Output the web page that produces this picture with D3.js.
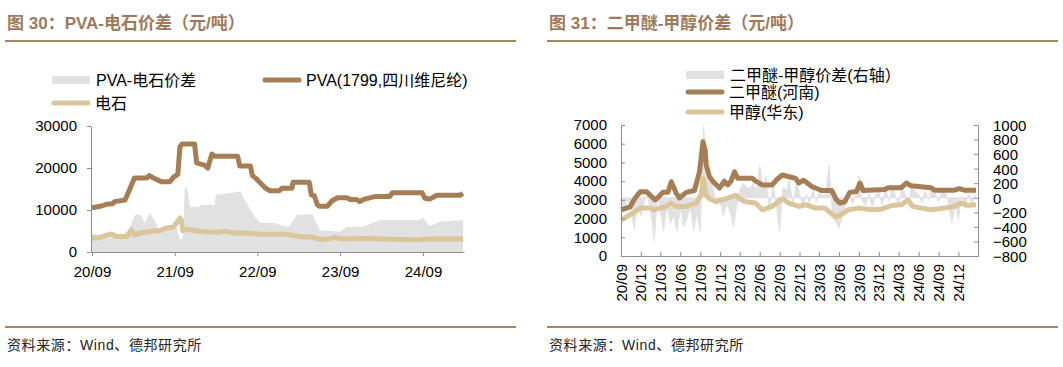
<!DOCTYPE html>
<html>
<head>
<meta charset="utf-8">
<script src="https://cdn.jsdelivr.net/npm/d3@7"></script>
<style>
  body { margin: 0; background: #fff; }
  svg { display: block; }
  text { font-family: "Liberation Sans", Arial, "Noto Sans CJK SC", sans-serif; }
</style>
</head>
<body>
<svg id="chart" width="1063" height="367"></svg>
<script>
// ---- data: PVA chart (元/吨) ----
const pvaPrice = [
  ["2020-09-01",10550],["2020-10-13",10950],["2020-11-06",11400],["2020-12-01",11500],["2020-12-10",12000],
  ["2021-01-25",12400],["2021-02-03",13500],["2021-02-15",15000],["2021-03-07",17600],["2021-05-01",17600],
  ["2021-05-12",18200],["2021-06-04",17500],["2021-06-20",17100],["2021-07-06",16700],["2021-08-10",16700],
  ["2021-08-28",17900],["2021-09-15",18500],["2021-09-24",25000],["2021-10-03",25700],["2021-11-28",25700],
  ["2021-12-07",21200],["2022-01-10",20700],["2022-01-25",20000],["2022-02-12",23300],["2022-02-25",22800],
  ["2022-06-06",22800],["2022-06-15",20500],["2022-08-01",20500],["2022-08-10",18200],["2022-08-28",17400],
  ["2022-10-03",15400],["2022-10-25",14600],["2022-12-08",14600],["2022-12-18",15200],["2023-02-01",15200],
  ["2023-02-05",16600],["2023-04-18",16600],["2023-04-27",13600],["2023-05-10",13400],["2023-05-24",11200],
  ["2023-06-03",10900],["2023-07-07",10900],["2023-07-28",12200],["2023-08-21",12900],["2023-10-01",12900],
  ["2023-10-15",12500],["2023-11-13",12500],["2023-11-27",12000],["2023-12-18",12600],["2024-02-01",13200],
  ["2024-04-07",13200],["2024-04-19",14100],["2024-08-28",14100],["2024-09-09",12800],["2024-10-01",12600],
  ["2024-11-01",13500],["2025-02-12",13500],["2025-02-24",14000]
];
const carbidePrice = [
  ["2020-09-01",3250],["2020-10-06",3400],["2020-11-04",4000],["2020-11-26",4300],["2020-12-19",3700],
  ["2021-02-01",3700],["2021-02-23",5200],["2021-03-07",4000],["2021-04-01",4600],["2021-04-28",4700],
  ["2021-05-28",5000],["2021-06-28",5100],["2021-07-25",5700],["2021-08-25",5900],["2021-09-10",7000],
  ["2021-09-25",8100],["2021-10-01",7500],["2021-10-07",5100],["2021-10-30",5400],["2021-12-22",4900],
  ["2022-03-04",4700],["2022-04-16",4900],["2022-05-16",4500],["2022-07-13",4500],["2022-09-13",4200],
  ["2022-11-10",4200],["2023-01-07",4200],["2023-03-07",3700],["2023-05-04",3500],["2023-06-04",3000],
  ["2023-07-16",3100],["2023-08-07",3500],["2023-09-13",3100],["2023-12-25",3200],["2024-05-22",3000],
  ["2024-08-19",2900],["2024-09-16",3100],["2025-02-25",3100]
];
const pvaSpread = [
  ["2020-09-01",4300],["2020-11-19",3900],["2021-01-25",4300],["2021-02-20",6500],["2021-03-13",9000],
  ["2021-04-04",8800],["2021-04-22",6900],["2021-05-13",9300],["2021-06-04",7600],["2021-06-19",5700],
  ["2021-09-10",5700],["2021-09-25",2800],["2021-10-07",3600],["2021-10-16",15500],["2021-10-28",14800],
  ["2021-11-07",10800],["2021-12-13",10800],["2021-12-25",11200],["2022-02-25",11200],["2022-03-01",13600],
  ["2022-06-19",14400],["2022-07-07",12400],["2022-08-19",8400],["2022-09-16",6900],["2022-11-16",6900],
  ["2023-01-01",6000],["2023-01-22",6200],["2023-02-22",8800],["2023-05-01",9000],["2023-06-04",5200],
  ["2023-09-01",4800],["2023-10-01",6000],["2023-12-10",6000],["2024-02-25",7600],["2024-08-19",7600],
  ["2024-09-01",8100],["2024-10-01",6200],["2024-11-16",7200],["2025-02-25",7600]
];
const leftTickDates = ["2020-09-01","2021-09-01","2022-09-01","2023-09-01","2024-09-01"];
const leftYTicks = [0, 10000, 20000, 30000];

// ---- data: 二甲醚 chart (元/吨) ----
const dmePrice = [
  ["2020-09-01",2460],["2020-10-13",2630],["2020-11-05",3100],["2020-11-28",3430],["2020-12-28",3430],
  ["2021-01-13",3250],["2021-02-05",3000],["2021-02-20",3150],["2021-03-13",3400],["2021-04-05",3400],
  ["2021-04-20",3970],["2021-05-13",3350],["2021-05-28",3100],["2021-06-28",3400],["2021-08-05",3500],
  ["2021-08-28",4500],["2021-09-13",6100],["2021-09-23",5660],["2021-09-28",4860],["2021-10-13",4240],
  ["2021-10-28",4000],["2021-11-28",3630],["2021-12-20",4000],["2022-01-05",3800],["2022-01-20",4000],
  ["2022-02-05",4500],["2022-02-20",4150],["2022-04-28",4150],["2022-05-13",4000],["2022-06-13",3800],
  ["2022-07-28",3800],["2022-08-20",4100],["2022-09-13",4330],["2022-11-13",4150],["2022-11-28",3900],
  ["2022-12-20",4050],["2023-01-28",3700],["2023-03-13",3500],["2023-04-28",3500],["2023-05-20",3000],
  ["2023-06-05",2830],["2023-06-28",2900],["2023-07-20",3400],["2023-08-20",3450],["2023-09-05",3900],
  ["2023-09-20",3500],["2023-12-28",3550],["2024-01-13",3650],["2024-03-13",3650],["2024-04-05",3900],
  ["2024-04-28",3750],["2024-07-28",3650],["2024-08-13",3520],["2024-11-13",3520],["2024-12-05",3600],
  ["2024-12-28",3520],["2025-02-20",3520]
];
const methanolPrice = [
  ["2020-09-01",1920],["2020-09-28",2100],["2020-10-28",2300],["2020-11-28",2560],["2021-01-13",2560],
  ["2021-01-28",2470],["2021-02-28",2560],["2021-03-28",2650],["2021-04-20",2830],["2021-05-13",2650],
  ["2021-06-28",2650],["2021-08-13",2830],["2021-09-05",3300],["2021-09-13",4150],["2021-09-28",3250],
  ["2021-10-13",3060],["2021-11-13",2900],["2021-12-28",3060],["2022-02-13",3250],["2022-02-28",3060],
  ["2022-03-28",2900],["2022-05-13",2830],["2022-06-13",2470],["2022-07-28",2650],["2022-09-13",3060],
  ["2022-10-13",2830],["2022-11-28",2650],["2022-12-28",2740],["2023-02-13",2560],["2023-03-28",2560],
  ["2023-05-13",2100],["2023-06-05",2170],["2023-07-13",2470],["2023-08-28",2560],["2023-10-28",2470],
  ["2023-12-13",2500],["2024-01-28",2700],["2024-03-13",2740],["2024-04-13",3000],["2024-05-05",2650],
  ["2024-06-13",2560],["2024-07-28",2470],["2024-09-28",2560],["2024-11-13",2650],["2024-12-13",2830],
  ["2025-01-13",2700],["2025-02-20",2740]
];
// spread on right axis: [month, value on 1st, value on 16th]
const dmeSpread = [
  ["2020-09",-80,-200],["2020-10",-30,-150],["2020-11",-440,-80],["2020-12",-250,-60],
  ["2021-01",40,-200],["2021-02",-600,30],["2021-03",-200,-460],["2021-04",-100,-350],
  ["2021-05",-250,-460],["2021-06",-150,-400],["2021-07",-300,-120],["2021-08",-450,-200],
  ["2021-09",-470,1000],["2021-10",300,310],["2021-11",100,-100],["2021-12",-50,-250],
  ["2022-01",-80,-200],["2022-02",-400,-100],["2022-03",100,200],["2022-04",150,120],
  ["2022-05",200,100],["2022-06",450,150],["2022-07",300,-200],["2022-08",180,-100],
  ["2022-09",-470,150],["2022-10",100,250],["2022-11",-100,200],["2022-12",80,-150],
  ["2023-01",50,-80],["2023-02",120,-60],["2023-03",100,30],["2023-04",50,450],
  ["2023-05",-200,-340],["2023-06",-420,-250],["2023-07",-100,50],["2023-08",-80,20],
  ["2023-09",300,-50],["2023-10",-100,60],["2023-11",-150,40],["2023-12",80,-100],
  ["2024-01",120,-60],["2024-02",180,20],["2024-03",-120,150],["2024-04",60,-80],
  ["2024-05",200,100],["2024-06",50,-80],["2024-07",100,-40],["2024-08",150,60],
  ["2024-09",-60,100],["2024-10",120,-80],["2024-11",-350,-100],["2024-12",-300,40],
  ["2025-01",-150,60],["2025-02",-100,30]
];
const rightTickDates = [
  "2020-09-01","2020-12-01","2021-03-01","2021-06-01","2021-09-01","2021-12-01",
  "2022-03-01","2022-06-01","2022-09-01","2022-12-01","2023-03-01","2023-06-01",
  "2023-09-01","2023-12-01","2024-03-01","2024-06-01","2024-09-01","2024-12-01"
];
const rightYTicks = d3.range(0, 7001, 1000);
const rightY2Ticks = d3.range(-800, 1001, 200);

// ---- styles ----
const brown = "#A67E55";
const tan = "#DBC69C";
const grey = "#E1E1E1";
const titleColor = "#9E7A5C";
const ruleColor = "#A8865F";
const axisColor = "#8C8C8C";

const parse = d3.timeParse("%Y-%m-%d");
const fmt = d3.timeFormat("%y/%m");
const toPts = arr => arr.map(d => ({ date: parse(d[0]), value: d[1] }));

const svg = d3.select("#chart");

// headers & footers
function frame(x0, x1, title) {
  svg.append("text").attr("x", x0 + 2).attr("y", 29)
    .attr("fill", titleColor).attr("font-size", 17).attr("font-weight", "bold")
    .text(title);
  svg.append("line").attr("x1", x0).attr("x2", x1).attr("y1", 41).attr("y2", 41)
    .attr("stroke", ruleColor).attr("stroke-width", 2);
  svg.append("line").attr("x1", x0).attr("x2", x1).attr("y1", 327).attr("y2", 327)
    .attr("stroke", ruleColor).attr("stroke-width", 2);
  svg.append("text").attr("x", x0 + 2).attr("y", 350)
    .attr("fill", "#222").attr("font-size", 14).attr("letter-spacing", 0.6)
    .text("资料来源：Wind、德邦研究所");
}
frame(5, 516, "图 30：PVA-电石价差（元/吨）");
frame(547, 1058, "图 31：二甲醚-甲醇价差（元/吨）");

function styleAxis(g) {
  g.select(".domain").attr("stroke", axisColor);
  g.selectAll(".tick line").attr("stroke", axisColor);
  g.selectAll(".tick text").attr("fill", "#000").attr("font-size", 15)
    .attr("font-family", "\"Liberation Sans\", Arial, sans-serif");
}

// legend helpers
function legendRect(x, y, label) {
  svg.append("rect").attr("x", x).attr("y", y - 4).attr("width", 38).attr("height", 8).attr("fill", grey);
  svg.append("text").attr("x", x + 44).attr("y", y + 6).attr("font-size", 16).attr("fill", "#000").text(label);
}
function legendLine(x, y, color, label) {
  svg.append("line").attr("x1", x + 2).attr("x2", x + 36).attr("y1", y).attr("y2", y)
    .attr("stroke", color).attr("stroke-width", 5).attr("stroke-linecap", "round");
  svg.append("text").attr("x", x + 43).attr("y", y + 6).attr("font-size", 16).attr("fill", "#000").text(label);
}

// ================= left chart =================
{
  const xL = d3.scaleTime().domain([parse("2020-09-01"), parse("2025-03-01")]).range([92, 464]);
  const yL = d3.scaleLinear().domain([0, 30000]).range([252, 126]);

  svg.append("path").datum(toPts(pvaSpread))
    .attr("fill", grey)
    .attr("d", d3.area().x(d => xL(d.date)).y0(yL(0)).y1(d => yL(d.value)));

  const line = d3.line().x(d => xL(d.date)).y(d => yL(d.value));
  svg.append("path").datum(toPts(pvaPrice)).attr("fill", "none")
    .attr("stroke", brown).attr("stroke-width", 5).attr("stroke-linejoin", "round").attr("d", line);
  svg.append("path").datum(toPts(carbidePrice)).attr("fill", "none")
    .attr("stroke", tan).attr("stroke-width", 5).attr("stroke-linejoin", "round").attr("d", line);

  svg.append("g").attr("transform", "translate(91,0)")
    .call(d3.axisLeft(yL).tickValues(leftYTicks).tickSize(4).tickSizeOuter(0).tickPadding(10).tickFormat(d3.format("d")))
    .call(styleAxis);
  svg.append("g").attr("transform", "translate(0,252)")
    .call(d3.axisBottom(xL).tickValues(leftTickDates.map(parse)).tickFormat(fmt)
      .tickSize(4).tickSizeOuter(0).tickPadding(10))
    .call(styleAxis);

  legendRect(52, 80, "PVA-电石价差");
  legendLine(263, 80, brown, "PVA(1799,四川维尼纶)");
  legendLine(52, 103, tan, "电石");
}

// ================= right chart =================
{
  const xR = d3.scaleTime().domain([parse("2020-09-01"), parse("2025-03-01")]).range([621, 978]);
  const yR = d3.scaleLinear().domain([0, 7000]).range([256, 125]);
  const yR2 = d3.scaleLinear().domain([-800, 1000]).range([256, 125]);

  const spreadPts = [];
  dmeSpread.forEach(d => {
    spreadPts.push({ date: parse(d[0] + "-01"), value: d[1] });
    spreadPts.push({ date: parse(d[0] + "-16"), value: d[2] });
  });
  svg.append("path").datum(spreadPts)
    .attr("fill", grey).attr("stroke", grey).attr("stroke-width", 0.8)
    .attr("d", d3.area().x(d => xR(d.date)).y0(yR2(0)).y1(d => yR2(d.value)));

  const line = d3.line().x(d => xR(d.date)).y(d => yR(d.value));
  svg.append("path").datum(toPts(dmePrice)).attr("fill", "none")
    .attr("stroke", brown).attr("stroke-width", 5).attr("stroke-linejoin", "round").attr("d", line);
  svg.append("path").datum(toPts(methanolPrice)).attr("fill", "none")
    .attr("stroke", tan).attr("stroke-width", 5).attr("stroke-linejoin", "round").attr("d", line);

  svg.append("g").attr("transform", "translate(621,0)")
    .call(d3.axisLeft(yR).tickValues(rightYTicks).tickSize(-4).tickSizeOuter(0).tickPadding(14).tickFormat(d3.format("d")))
    .call(styleAxis);
  svg.append("g").attr("transform", "translate(978,0)")
    .call(d3.axisRight(yR2).tickValues(rightY2Ticks).tickSize(-4).tickSizeOuter(0).tickPadding(15).tickFormat(d3.format("d")))
    .call(styleAxis)
    .call(g => g.selectAll(".tick text").attr("dy", "0.36em"));
  const xg = svg.append("g").attr("transform", "translate(0,256)")
    .call(d3.axisBottom(xR).tickValues(rightTickDates.map(parse)).tickFormat("")
      .tickSize(-4).tickSizeOuter(0))
    .call(styleAxis);
  xg.selectAll(".tick").append("text")
    .attr("transform", "translate(5,8) rotate(-90)")
    .attr("text-anchor", "end")
    .attr("fill", "#000").attr("font-size", 15)
    .attr("font-family", "\"Liberation Sans\", Arial, sans-serif")
    .text(d => fmt(d));

  legendRect(686, 75, "二甲醚-甲醇价差(右轴）");
  legendLine(686, 92, brown, "二甲醚(河南)");
  legendLine(686, 112, tan, "甲醇(华东)");
}
</script>
</body>
</html>
